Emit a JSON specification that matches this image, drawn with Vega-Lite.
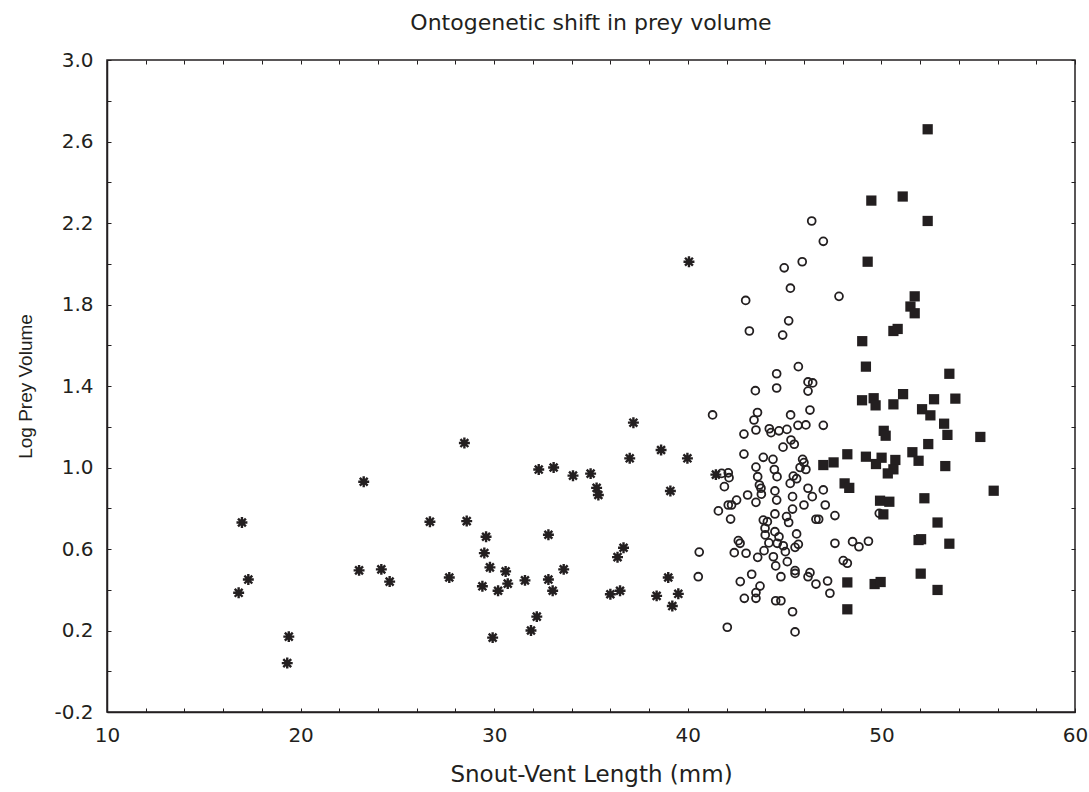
{
  "$schema": "https://vega.github.io/schema/vega-lite/v6.json",
  "width": 968,
  "height": 652,
  "autosize": "none",
  "padding": {"left": 107, "top": 60, "right": 14, "bottom": 80},
  "background": "white",
  "config": {
    "view": {"stroke": "#231f20", "strokeWidth": 1.5},
    "font": "DejaVu Sans"
  },
  "title": {
    "text": "Ontogenetic shift in prey volume",
    "font": "DejaVu Sans",
    "fontSize": 22,
    "fontWeight": "normal",
    "color": "#231f20",
    "anchor": "middle",
    "offset": 15
  },
  "resolve": {"axis": {"x": "independent", "y": "independent"}},
  "datasets": {
    "ast": [
      {"svl": 23.26, "lpv": 0.93}, {"svl": 16.97, "lpv": 0.73}, {"svl": 17.30, "lpv": 0.45}, {"svl": 16.80, "lpv": 0.385},
      {"svl": 19.39, "lpv": 0.17}, {"svl": 19.31, "lpv": 0.04}, {"svl": 23.02, "lpv": 0.495}, {"svl": 24.17, "lpv": 0.50},
      {"svl": 24.60, "lpv": 0.44}, {"svl": 37.19, "lpv": 1.22}, {"svl": 28.46, "lpv": 1.12}, {"svl": 32.30, "lpv": 0.99},
      {"svl": 33.07, "lpv": 1.00}, {"svl": 34.07, "lpv": 0.96}, {"svl": 34.98, "lpv": 0.97}, {"svl": 35.29, "lpv": 0.90},
      {"svl": 35.38, "lpv": 0.865}, {"svl": 37.00, "lpv": 1.045}, {"svl": 38.62, "lpv": 1.086}, {"svl": 39.98, "lpv": 1.045},
      {"svl": 39.10, "lpv": 0.885}, {"svl": 26.68, "lpv": 0.734}, {"svl": 28.58, "lpv": 0.737}, {"svl": 29.58, "lpv": 0.66},
      {"svl": 29.49, "lpv": 0.58}, {"svl": 32.80, "lpv": 0.67}, {"svl": 27.68, "lpv": 0.46}, {"svl": 29.78, "lpv": 0.51},
      {"svl": 30.59, "lpv": 0.49}, {"svl": 29.39, "lpv": 0.417}, {"svl": 30.20, "lpv": 0.395}, {"svl": 30.70, "lpv": 0.43},
      {"svl": 31.59, "lpv": 0.446}, {"svl": 32.80, "lpv": 0.45}, {"svl": 33.02, "lpv": 0.395}, {"svl": 33.59, "lpv": 0.50},
      {"svl": 32.20, "lpv": 0.268}, {"svl": 31.90, "lpv": 0.20}, {"svl": 29.92, "lpv": 0.165}, {"svl": 36.68, "lpv": 0.606},
      {"svl": 36.37, "lpv": 0.56}, {"svl": 38.99, "lpv": 0.46}, {"svl": 36.00, "lpv": 0.378}, {"svl": 36.50, "lpv": 0.395},
      {"svl": 38.39, "lpv": 0.37}, {"svl": 39.51, "lpv": 0.38}, {"svl": 39.20, "lpv": 0.32}, {"svl": 40.06, "lpv": 2.01},
      {"svl": 41.45, "lpv": 0.965}
    ],
    "circ": [
      {"svl": 46.40, "lpv": 2.21}, {"svl": 47.00, "lpv": 2.11}, {"svl": 45.91, "lpv": 2.01}, {"svl": 44.98, "lpv": 1.98},
      {"svl": 45.30, "lpv": 1.88}, {"svl": 42.99, "lpv": 1.82}, {"svl": 47.81, "lpv": 1.84}, {"svl": 45.21, "lpv": 1.72},
      {"svl": 43.18, "lpv": 1.67}, {"svl": 44.90, "lpv": 1.65}, {"svl": 45.71, "lpv": 1.495}, {"svl": 44.59, "lpv": 1.46},
      {"svl": 46.21, "lpv": 1.42}, {"svl": 46.45, "lpv": 1.415}, {"svl": 43.49, "lpv": 1.377}, {"svl": 44.59, "lpv": 1.39},
      {"svl": 46.21, "lpv": 1.375}, {"svl": 41.28, "lpv": 1.258}, {"svl": 43.60, "lpv": 1.27}, {"svl": 43.42, "lpv": 1.233},
      {"svl": 45.31, "lpv": 1.258}, {"svl": 46.31, "lpv": 1.282}, {"svl": 43.52, "lpv": 1.184}, {"svl": 42.90, "lpv": 1.164},
      {"svl": 44.21, "lpv": 1.19}, {"svl": 44.30, "lpv": 1.171}, {"svl": 44.71, "lpv": 1.18}, {"svl": 45.12, "lpv": 1.187},
      {"svl": 45.69, "lpv": 1.207}, {"svl": 46.10, "lpv": 1.209}, {"svl": 47.00, "lpv": 1.207}, {"svl": 45.33, "lpv": 1.135},
      {"svl": 45.50, "lpv": 1.114}, {"svl": 44.92, "lpv": 1.10}, {"svl": 42.90, "lpv": 1.066}, {"svl": 43.90, "lpv": 1.05},
      {"svl": 44.40, "lpv": 1.04}, {"svl": 45.93, "lpv": 1.04}, {"svl": 46.00, "lpv": 1.024}, {"svl": 43.52, "lpv": 1.002},
      {"svl": 44.47, "lpv": 0.99}, {"svl": 45.80, "lpv": 1.00}, {"svl": 46.10, "lpv": 0.99}, {"svl": 41.75, "lpv": 0.971},
      {"svl": 42.09, "lpv": 0.974}, {"svl": 42.13, "lpv": 0.95}, {"svl": 43.61, "lpv": 0.955}, {"svl": 44.61, "lpv": 0.955},
      {"svl": 45.45, "lpv": 0.958}, {"svl": 45.62, "lpv": 0.945}, {"svl": 45.29, "lpv": 0.922}, {"svl": 41.89, "lpv": 0.906},
      {"svl": 43.70, "lpv": 0.914}, {"svl": 43.78, "lpv": 0.898}, {"svl": 46.21, "lpv": 0.898}, {"svl": 47.00, "lpv": 0.89},
      {"svl": 44.50, "lpv": 0.885}, {"svl": 43.80, "lpv": 0.869}, {"svl": 43.09, "lpv": 0.865}, {"svl": 46.43, "lpv": 0.857},
      {"svl": 45.41, "lpv": 0.857}, {"svl": 44.59, "lpv": 0.84}, {"svl": 43.52, "lpv": 0.829}, {"svl": 42.52, "lpv": 0.84},
      {"svl": 42.26, "lpv": 0.816}, {"svl": 42.09, "lpv": 0.816}, {"svl": 46.00, "lpv": 0.816}, {"svl": 47.10, "lpv": 0.816},
      {"svl": 45.41, "lpv": 0.796}, {"svl": 41.58, "lpv": 0.787}, {"svl": 42.21, "lpv": 0.747}, {"svl": 44.50, "lpv": 0.772},
      {"svl": 45.10, "lpv": 0.759}, {"svl": 46.62, "lpv": 0.746}, {"svl": 46.76, "lpv": 0.746}, {"svl": 47.60, "lpv": 0.764},
      {"svl": 43.90, "lpv": 0.742}, {"svl": 44.11, "lpv": 0.734}, {"svl": 45.21, "lpv": 0.73}, {"svl": 43.99, "lpv": 0.702},
      {"svl": 45.62, "lpv": 0.674}, {"svl": 44.00, "lpv": 0.669}, {"svl": 44.50, "lpv": 0.685}, {"svl": 44.71, "lpv": 0.66},
      {"svl": 42.61, "lpv": 0.641}, {"svl": 42.70, "lpv": 0.628}, {"svl": 44.19, "lpv": 0.63}, {"svl": 44.62, "lpv": 0.628},
      {"svl": 44.93, "lpv": 0.616}, {"svl": 45.71, "lpv": 0.623}, {"svl": 45.54, "lpv": 0.608}, {"svl": 47.60, "lpv": 0.628},
      {"svl": 48.51, "lpv": 0.636}, {"svl": 48.84, "lpv": 0.611}, {"svl": 49.33, "lpv": 0.638}, {"svl": 49.89, "lpv": 0.775},
      {"svl": 40.59, "lpv": 0.585}, {"svl": 42.40, "lpv": 0.582}, {"svl": 43.01, "lpv": 0.579}, {"svl": 43.61, "lpv": 0.559},
      {"svl": 43.94, "lpv": 0.592}, {"svl": 44.42, "lpv": 0.562}, {"svl": 45.04, "lpv": 0.587}, {"svl": 45.14, "lpv": 0.538},
      {"svl": 44.54, "lpv": 0.517}, {"svl": 48.03, "lpv": 0.543}, {"svl": 48.24, "lpv": 0.53}, {"svl": 40.54, "lpv": 0.464},
      {"svl": 42.71, "lpv": 0.44}, {"svl": 43.30, "lpv": 0.476}, {"svl": 43.73, "lpv": 0.418}, {"svl": 44.81, "lpv": 0.464},
      {"svl": 45.54, "lpv": 0.494}, {"svl": 45.54, "lpv": 0.48}, {"svl": 46.31, "lpv": 0.484}, {"svl": 46.21, "lpv": 0.464},
      {"svl": 46.62, "lpv": 0.428}, {"svl": 47.22, "lpv": 0.443}, {"svl": 47.34, "lpv": 0.383}, {"svl": 43.52, "lpv": 0.386},
      {"svl": 43.52, "lpv": 0.358}, {"svl": 42.92, "lpv": 0.358}, {"svl": 44.54, "lpv": 0.346}, {"svl": 44.81, "lpv": 0.346},
      {"svl": 45.41, "lpv": 0.292}, {"svl": 42.04, "lpv": 0.216}, {"svl": 45.54, "lpv": 0.193}
    ],
    "sq": [
      {"svl": 52.39, "lpv": 2.66}, {"svl": 49.48, "lpv": 2.31}, {"svl": 51.10, "lpv": 2.33}, {"svl": 52.39, "lpv": 2.21},
      {"svl": 49.29, "lpv": 2.01}, {"svl": 51.72, "lpv": 1.84}, {"svl": 51.50, "lpv": 1.79}, {"svl": 51.72, "lpv": 1.757},
      {"svl": 50.62, "lpv": 1.67}, {"svl": 50.84, "lpv": 1.68}, {"svl": 49.01, "lpv": 1.62}, {"svl": 49.20, "lpv": 1.495},
      {"svl": 53.51, "lpv": 1.46}, {"svl": 49.00, "lpv": 1.33}, {"svl": 49.60, "lpv": 1.34}, {"svl": 49.70, "lpv": 1.305},
      {"svl": 50.62, "lpv": 1.31}, {"svl": 51.12, "lpv": 1.36}, {"svl": 52.72, "lpv": 1.335}, {"svl": 53.82, "lpv": 1.338},
      {"svl": 52.10, "lpv": 1.286}, {"svl": 52.53, "lpv": 1.256}, {"svl": 53.24, "lpv": 1.215}, {"svl": 53.41, "lpv": 1.16},
      {"svl": 55.11, "lpv": 1.15}, {"svl": 50.12, "lpv": 1.18}, {"svl": 50.22, "lpv": 1.156}, {"svl": 52.42, "lpv": 1.115},
      {"svl": 51.60, "lpv": 1.075}, {"svl": 51.92, "lpv": 1.033}, {"svl": 53.30, "lpv": 1.007}, {"svl": 48.24, "lpv": 1.065},
      {"svl": 47.53, "lpv": 1.025}, {"svl": 47.00, "lpv": 1.012}, {"svl": 49.20, "lpv": 1.053}, {"svl": 50.01, "lpv": 1.048},
      {"svl": 49.72, "lpv": 1.017}, {"svl": 50.72, "lpv": 1.037}, {"svl": 50.62, "lpv": 0.991}, {"svl": 50.33, "lpv": 0.971},
      {"svl": 48.10, "lpv": 0.922}, {"svl": 48.34, "lpv": 0.90}, {"svl": 55.80, "lpv": 0.886}, {"svl": 52.22, "lpv": 0.849},
      {"svl": 49.93, "lpv": 0.837}, {"svl": 50.41, "lpv": 0.832}, {"svl": 50.10, "lpv": 0.77}, {"svl": 52.90, "lpv": 0.73},
      {"svl": 51.92, "lpv": 0.644}, {"svl": 52.05, "lpv": 0.648}, {"svl": 53.51, "lpv": 0.626}, {"svl": 52.03, "lpv": 0.479},
      {"svl": 48.24, "lpv": 0.436}, {"svl": 49.65, "lpv": 0.428}, {"svl": 49.96, "lpv": 0.438}, {"svl": 52.90, "lpv": 0.399},
      {"svl": 48.24, "lpv": 0.304}
    ]
  },
  "layer": [
    {
      "data": {"name": "ast"},
      "mark": {
        "type": "point",
        "shape": "M-1,0H1M0,-1V1M-0.72,-0.72L0.72,0.72M-0.72,0.72L0.72,-0.72",
        "filled": false,
        "stroke": "#231f20",
        "strokeWidth": 2.4,
        "size": 120,
        "opacity": 1
      },
      "encoding": {
        "x": {
          "field": "svl",
          "type": "quantitative",
          "scale": {"domain": [10, 60], "nice": false, "zero": false},
          "axis": {
            "orient": "bottom",
            "title": "Snout-Vent Length (mm)",
            "values": [10, 12, 14, 16, 18, 20, 22, 24, 26, 28, 30, 32, 34, 36, 38, 40, 42, 44, 46, 48, 50, 52, 54, 56, 58, 60],
            "labelExpr": "datum.value % 10 === 0 ? datum.label : ''",
            "grid": false,
            "domainColor": "#231f20",
            "domainWidth": 1.5,
            "tickColor": "#231f20",
            "tickSize": -4,
            "tickWidth": 1,
            "labelFont": "DejaVu Sans",
            "labelFontSize": 20,
            "labelColor": "#231f20",
            "labelPadding": 17,
            "labelFlush": false,
            "titleFont": "DejaVu Sans",
            "titleFontSize": 23,
            "titleFontWeight": "normal",
            "titleColor": "#231f20",
            "titlePadding": 18
          }
        },
        "y": {
          "field": "lpv",
          "type": "quantitative",
          "scale": {"domain": [-0.2, 3.0], "nice": false, "zero": false},
          "axis": {
            "orient": "left",
            "title": "Log Prey Volume",
            "values": [-0.2, 0, 0.2, 0.4, 0.6, 0.8, 1.0, 1.2, 1.4, 1.6, 1.8, 2.0, 2.2, 2.4, 2.6, 2.8, 3.0],
            "labelExpr": "(abs(round(datum.value * 10)) % 4 === 2) ? replace(format(datum.value, '.1f'), '\u2212', '-') : ''",
            "grid": false,
            "domainColor": "#231f20",
            "domainWidth": 1.5,
            "tickColor": "#231f20",
            "tickSize": -4,
            "tickWidth": 1,
            "labelFont": "DejaVu Sans",
            "labelFontSize": 20,
            "labelColor": "#231f20",
            "labelPadding": 18,
            "labelFlush": false,
            "titleFont": "Liberation Sans",
            "titleFontSize": 19,
            "titleFontWeight": "normal",
            "titleColor": "#231f20",
            "titlePadding": 18
          }
        }
      }
    },
    {
      "data": {"name": "circ"},
      "mark": {
        "type": "point",
        "shape": "circle",
        "filled": false,
        "stroke": "#231f20",
        "strokeWidth": 1.8,
        "size": 62,
        "opacity": 1
      },
      "encoding": {
        "x": {
          "field": "svl",
          "type": "quantitative",
          "scale": {"domain": [10, 60], "nice": false, "zero": false},
          "axis": {
            "orient": "top",
            "title": null,
            "labels": false,
            "domain": false,
            "grid": false,
            "values": [10, 12, 14, 16, 18, 20, 22, 24, 26, 28, 30, 32, 34, 36, 38, 40, 42, 44, 46, 48, 50, 52, 54, 56, 58, 60],
            "tickColor": "#231f20",
            "tickSize": -4,
            "tickWidth": 1
          }
        },
        "y": {
          "field": "lpv",
          "type": "quantitative",
          "scale": {"domain": [-0.2, 3.0], "nice": false, "zero": false},
          "axis": {
            "orient": "right",
            "title": null,
            "labels": false,
            "domain": false,
            "grid": false,
            "values": [-0.2, 0, 0.2, 0.4, 0.6, 0.8, 1.0, 1.2, 1.4, 1.6, 1.8, 2.0, 2.2, 2.4, 2.6, 2.8, 3.0],
            "tickColor": "#231f20",
            "tickSize": -4,
            "tickWidth": 1
          }
        }
      }
    },
    {
      "data": {"name": "sq"},
      "mark": {
        "type": "point",
        "shape": "square",
        "filled": true,
        "fill": "#231f20",
        "size": 105,
        "opacity": 1
      },
      "encoding": {
        "x": {
          "field": "svl",
          "type": "quantitative",
          "scale": {"domain": [10, 60], "nice": false, "zero": false},
          "axis": null
        },
        "y": {
          "field": "lpv",
          "type": "quantitative",
          "scale": {"domain": [-0.2, 3.0], "nice": false, "zero": false},
          "axis": null
        }
      }
    }
  ]
}
